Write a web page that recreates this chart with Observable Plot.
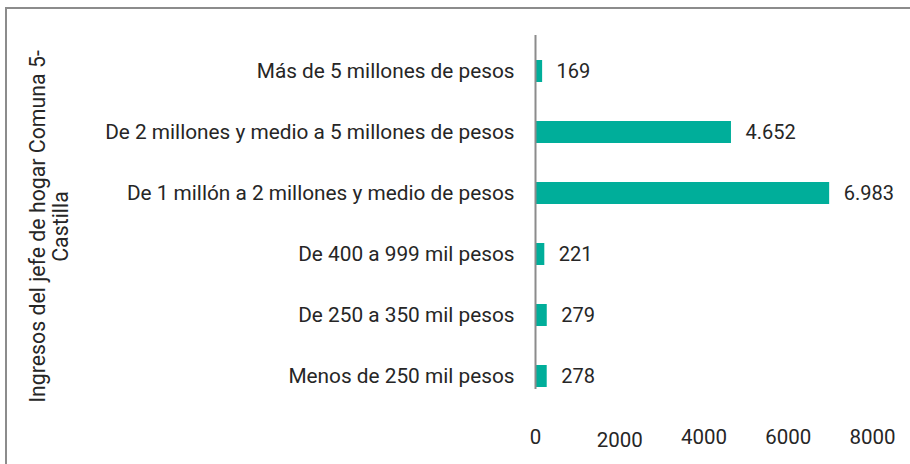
<!DOCTYPE html>
<html>
<head>
<meta charset="utf-8">
<script src="https://cdn.jsdelivr.net/npm/d3@7"></script>
<script src="https://cdn.jsdelivr.net/npm/@observablehq/plot@0.6"></script>
<style>
  html, body { margin: 0; padding: 0; background: #fff; }
  #wrap { position: relative; width: 910px; height: 464px; overflow: hidden; }
  #border { position: absolute; left: 5px; top: 7px; width: 960px; height: 520px; border: 2px solid #8c8c8c; box-sizing: border-box; pointer-events: none; }
  #chart { position: absolute; left: 0; top: 0; }
</style>
</head>
<body>
<div id="wrap"><div id="chart"></div><div id="border"></div></div>
<script>
const categories = [
  "Más de 5 millones de pesos",
  "De 2 millones y medio a 5 millones de pesos",
  "De 1 millón a 2 millones y medio de pesos",
  "De 400 a 999 mil pesos",
  "De 250 a 350 mil pesos",
  "Menos de 250 mil pesos"
];
const values = [169, 4652, 6983, 221, 279, 278];
const xTicks = [0, 2000, 4000, 6000, 8000];
const axisTitle = "Ingresos del jefe de hogar Comuna 5-\nCastilla";

const data = categories.map((c, i) => ({cat: c, value: values[i]}));
const fmt = v => v.toLocaleString("de-DE");

const chart = Plot.plot({
  width: 910,
  height: 464,
  marginLeft: 535,
  marginRight: 38,
  marginTop: 35,
  marginBottom: 75,
  x: {domain: [0, 8000], axis: null},
  y: {domain: categories, paddingInner: 0.643, paddingOuter: 0.19, align: 0.915, axis: null},
  style: {fontFamily: "Roboto, sans-serif", fontSize: "20px", color: "#262626", background: "transparent"},
  marks: [
    Plot.barX(data, {x: "value", y: "cat", fill: "#00ae9a"}),
    Plot.ruleX([0], {stroke: "#8c8c8c", strokeWidth: 2}),
    Plot.text(data, {x: "value", y: "cat", text: d => fmt(d.value), textAnchor: "start", dx: 14, fill: "#262626", fontSize: 20}),
    Plot.axisY({tickSize: 0, tickPadding: 21, fontSize: 20.8, fill: "#262626", label: null}),
    Plot.axisX({ticks: xTicks.filter(t => t !== 2000), tickSize: 0, tickPadding: 40, tickFormat: d => String(d), fontSize: 20.5, fill: "#262626", label: null}),
    Plot.axisX({ticks: xTicks.filter(t => t === 2000), tickSize: 0, tickPadding: 43, tickFormat: d => String(d), fontSize: 20.5, fill: "#262626", label: null}),
    Plot.text([axisTitle], {frameAnchor: "left", rotate: -90, dx: -486, dy: 14, textAnchor: "middle", lineAnchor: "middle", lineHeight: 1.05, fontSize: 21.3, fill: "#262626"})
  ]
});
document.getElementById("chart").appendChild(chart);
</script>
</body>
</html>
